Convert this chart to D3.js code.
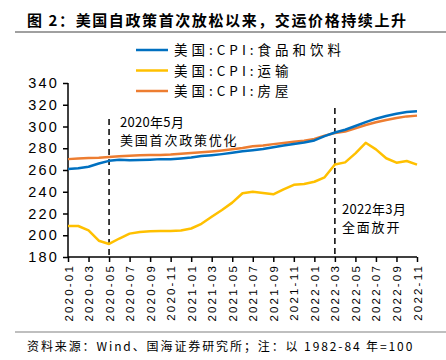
<!DOCTYPE html>
<html><head><meta charset="utf-8">
<script src="https://cdn.jsdelivr.net/npm/d3@7"></script>
<style>
body{margin:0;background:#fff;}
svg{display:block;}
</style></head>
<body>
<svg id="c" width="446" height="360"></svg>
<script>
const months = ["2020-01","2020-02","2020-03","2020-04","2020-05","2020-06","2020-07","2020-08","2020-09","2020-10","2020-11","2020-12",
"2021-01","2021-02","2021-03","2021-04","2021-05","2021-06","2021-07","2021-08","2021-09","2021-10","2021-11","2021-12",
"2022-01","2022-02","2022-03","2022-04","2022-05","2022-06","2022-07","2022-08","2022-09","2022-10","2022-11"];
const tickLabels = ["2020-01","2020-03","2020-05","2020-07","2020-09","2020-11","2021-01","2021-03","2021-05","2021-07","2021-09","2021-11","2022-01","2022-03","2022-05","2022-07","2022-09","2022-11"];
const yTicks = [180,200,220,240,260,280,300,320,340];
const foodBev = [261,261.6,263,266,268.4,269.4,269,269.2,269.5,270,269.8,270.6,271.5,272.8,273.6,274.6,275.8,277.2,278.2,279.3,281,282.5,284,285.2,287.2,291.2,294.5,297,300.5,304,307.2,309.7,311.8,313.4,314];
const transport = [208.5,208.5,204.5,195,192,197,201.5,203,203.6,203.8,204,204.3,206.2,210.5,217,223.2,230,238.6,240,238.9,237.6,242.2,246.4,247.2,249.2,253.3,265,267,275.3,285,279,270.8,266.7,268.3,265];
const housing = [270,270.6,271,271.3,272,272.6,273.2,273.5,273.8,273.9,274.2,275,275.6,276.3,277,277.9,279,280.2,281.8,282.6,283.8,284.8,286,287,288.5,291.6,294,295.4,298.3,301.4,303.9,306,307.8,309.3,310];
const seriesNames = ["美国:CPI:食品和饮料","美国:CPI:运输","美国:CPI:房屋"];
const seriesColors = ["#0070C0","#FFC000","#ED7D31"];
const title = "图 2：美国自政策首次放松以来，交运价格持续上升";
const source = "资料来源：Wind、国海证券研究所；注：以 1982-84 年=100";
const annotations = [
  {month:"2020-05", lines:["2020年5月","美国首次政策优化"]},
  {month:"2022-03", lines:["2022年3月","全面放开"]}
];

const svg = d3.select("#c");
const cjk = "'Noto Sans CJK SC', 'Noto Sans', sans-serif";
const latin = "'Liberation Sans', Arial, sans-serif";

const x = d3.scalePoint().domain(months).range([68, 417]);
const y = d3.scaleLinear().domain([180, 340]).range([257, 83]);

// title
svg.append("text").attr("x", 27).attr("y", 26).text(title)
  .attr("font-family", cjk).attr("font-size", 15).attr("font-weight", "bold")
  .attr("letter-spacing", 1.6).attr("fill", "#000");
svg.append("line").attr("x1", 15).attr("x2", 446).attr("y1", 32).attr("y2", 32)
  .attr("stroke", "#808080").attr("stroke-width", 1.5);

// footer
svg.append("line").attr("x1", 15).attr("x2", 446).attr("y1", 332).attr("y2", 332)
  .attr("stroke", "#808080").attr("stroke-width", 1.2);
svg.append("text").attr("x", 27).attr("y", 351).text(source)
  .attr("font-family", cjk).attr("font-size", 12).attr("letter-spacing", 1.9).attr("fill", "#000");

// axes
const yAxis = d3.axisLeft(y).tickValues(yTicks).tickSize(5).tickPadding(4);
const gy = svg.append("g").attr("transform", "translate(68,0)").call(yAxis);
gy.select(".domain").attr("stroke", "#000").attr("stroke-width", 1.5).attr("d", `M-0,${y(180)}V${y(340)}`);
gy.selectAll(".tick line").attr("stroke", "#000").attr("stroke-width", 1.5);
gy.selectAll(".tick text").attr("font-family", latin).attr("font-size", 14.5)
  .attr("letter-spacing", 2.2).attr("fill", "#000");

const xAxis = d3.axisBottom(x).tickValues(tickLabels).tickSize(5).tickPadding(4);
const gx = svg.append("g").attr("transform", `translate(0,${y(180)})`).call(xAxis);
gx.select(".domain").attr("stroke", "#000").attr("stroke-width", 1.5).attr("d", `M${x(months[0])},0H${x(months[months.length-1])}`);
gx.selectAll(".tick line").attr("stroke", "#000").attr("stroke-width", 1.5);
gx.selectAll(".tick text").attr("font-family", latin).attr("font-size", 11.5)
  .attr("letter-spacing", 2.2).attr("fill", "#000")
  .attr("text-anchor", "end").attr("dy", "0.35em")
  .attr("transform", "rotate(-90)").attr("x", -7).attr("y", 0);

// annotation dashed lines
const annTop = [119, 108];
annotations.forEach((a, i) => {
  svg.append("line").attr("x1", x(a.month)).attr("x2", x(a.month))
    .attr("y1", annTop[i]).attr("y2", y(180))
    .attr("stroke", "#000").attr("stroke-width", 1.5).attr("stroke-dasharray", "6,4");
});

// series lines
const series = [foodBev, transport, housing];
const line = d3.line().x((d, i) => x(months[i])).y(d => y(d)).curve(d3.curveLinear);
[1, 2, 0].forEach(k => {
  svg.append("path").datum(series[k]).attr("d", line).attr("fill", "none")
    .attr("stroke", seriesColors[k]).attr("stroke-width", 2.5).attr("stroke-linejoin", "round");
});

// annotation texts
const annPos = [{x: 120, y: [127, 145]}, {x: 342, y: [214, 232]}];
annotations.forEach((a, i) => {
  a.lines.forEach((t, j) => {
    svg.append("text").attr("x", annPos[i].x).attr("y", annPos[i].y[j]).text(t)
      .attr("font-family", cjk).attr("font-size", 13).attr("letter-spacing", j === 0 ? 0.3 : 1.8)
      .attr("fill", "#000");
  });
});

// legend
const legY = [50, 70.5, 91];
seriesNames.forEach((n, i) => {
  svg.append("line").attr("x1", 136).attr("x2", 168).attr("y1", legY[i]).attr("y2", legY[i])
    .attr("stroke", seriesColors[i]).attr("stroke-width", 2.5);
  svg.append("text").attr("x", 174).attr("y", legY[i] + 5).text(n)
    .attr("font-family", cjk).attr("font-size", 13.5).attr("letter-spacing", 4).attr("fill", "#000");
});
</script>
</body></html>
